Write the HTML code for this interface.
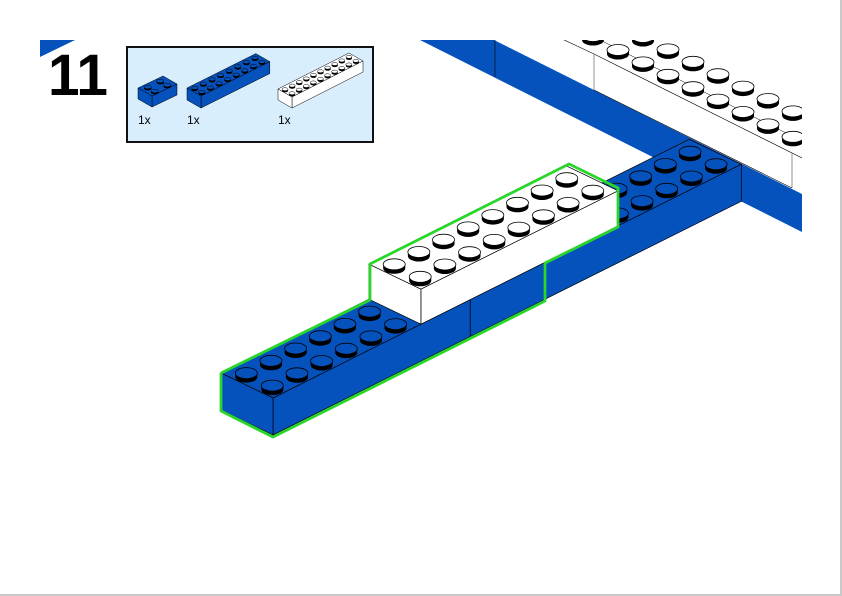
<!DOCTYPE html>
<html><head><meta charset="utf-8"><style>
html,body{margin:0;padding:0;background:#fff}
svg{display:block}
</style></head><body>
<svg id="s" width="842" height="596" viewBox="0 0 842 596" xmlns="http://www.w3.org/2000/svg">
<defs><clipPath id="c"><rect x="40" y="40" width="762" height="540"/></clipPath></defs>
<rect width="842" height="596" fill="#fff"/>
<line x1="841" y1="0" x2="841" y2="596" stroke="#c8c8c8" stroke-width="2"/>
<line x1="0" y1="595" x2="842" y2="595" stroke="#c8c8c8" stroke-width="2"/>
<polygon points="40,40 75,40 40,57" fill="#0552bd"/>
<text x="48" y="95" font-family="Liberation Sans, sans-serif" font-weight="bold" font-size="58" fill="#000" textLength="60" lengthAdjust="spacingAndGlyphs">11</text>
<rect x="127" y="47" width="246" height="95" fill="#d9eefc" stroke="#111" stroke-width="2"/>
<g font-family="Liberation Sans, sans-serif" font-size="12" fill="#000">
<text x="138" y="124">1x</text><text x="187" y="124">1x</text><text x="278" y="124">1x</text>
</g>
<g id="main" clip-path="url(#c)"></g>
<g id="parts"></g>
</svg>
<script>
var NS="http://www.w3.org/2000/svg";
function el(p,t,a){var e=document.createElementNS(NS,t);for(var k in a)e.setAttribute(k,a[k]);p.appendChild(e);return e;}
function pts(a){return a.map(function(p){return p[0].toFixed(1)+","+p[1].toFixed(1)}).join(" ");}
function add(p,q,k){return [p[0]+q[0]*k,p[1]+q[1]*k];}
function stud(g,cx,cy,rx,ry,h,col,sw){
  el(g,"ellipse",{cx:cx,cy:cy+h,rx:rx,ry:ry,fill:"#000"});
  el(g,"rect",{x:cx-rx,y:cy,width:2*rx,height:h,fill:"#000"});
  el(g,"ellipse",{cx:cx,cy:cy,rx:rx,ry:ry,fill:col,stroke:"#000","stroke-width":sw});
}
function brick(g,P,u,v,nL,nD,H,col,o){
  o=o||{};var sw=o.sw||0.7,ln=o.line||"#000";
  var A=P,B=add(P,u,nL),C=add(B,v,nD),D=add(P,v,nD);
  var dn=function(p){return [p[0],p[1]+H];};
  el(g,"polygon",{points:pts([A,B,C,D]),fill:col,stroke:ln,"stroke-width":sw});
  el(g,"polygon",{points:pts([A,B,dn(B),dn(A)]),fill:col,stroke:ln,"stroke-width":sw});
  el(g,"polygon",{points:pts([A,D,dn(D),dn(A)]),fill:col,stroke:ln,"stroke-width":sw});
  if(o.studs!==false){
    var rx=o.rx||11,ry=o.ry||5.5,h=o.sh||4;
    for(var j=nD-1;j>=0;j--)for(var i=0;i<nL;i++){
      var c=add(add(P,u,i+0.5),v,j+0.5);
      stud(g,c[0],c[1],rx,ry,h,col,o.ssw||0.8);
    }
  }
}
var BL="#0552bd",WH="#fff";
var g=document.getElementById("main");
// back band
el(g,"polygon",{points:"420,40 494,40 802,194 802,232",fill:BL});
el(g,"line",{x1:495,y1:40,x2:495,y2:77,stroke:"#000","stroke-width":0.6});
// upper white area
el(g,"polygon",{points:"565,40 802,40 802,194 792,188 594,90 594,55",fill:WH});
el(g,"polyline",{points:"560,38 594,54 802,158",fill:"none",stroke:"#000","stroke-width":0.6});
el(g,"line",{x1:594,y1:54,x2:594,y2:90,stroke:"#888","stroke-width":0.9});
el(g,"line",{x1:792,y1:153,x2:792,y2:188,stroke:"#888","stroke-width":0.9});
el(g,"line",{x1:594,y1:90,x2:792,y2:188,stroke:"#000","stroke-width":0.6});
el(g,"line",{x1:600,y1:40,x2:802,y2:141,stroke:"#000","stroke-width":0.5});
var su=[25,12.4];
stud(g,593,36,11,5.5,4,WH,0.8);
for(var i=0;i<7;i++){stud(g,643+su[0]*i,37+su[1]*i,11,5.5,4,WH,0.8);}
for(var i=0;i<8;i++){stud(g,618+su[0]*i,50+su[1]*i,11,5.5,4,WH,0.8);}
// main bricks
var F=[273,398],u=[24.65,-12.3],v=[-26,-12.5];
brick(g,add(F,u,11),u,v,8,2,37,BL);
brick(g,add(F,u,8),u,v,3,2,37,BL,{studs:false});
brick(g,F,u,v,8,2,37,BL);
var W=add(F,u,6);W=[W[0],W[1]-35];
brick(g,W,u,v,8,2,35,WH);
// green outline
el(g,"polyline",{points:"221,373 221,411 273,437 545,301 545,263 618,227 618,188 569,164 370,264 370,300 221,373",fill:"none",stroke:"#2bd62b","stroke-width":2.8,"stroke-linejoin":"round"});
// parts
var pg=document.getElementById("parts");
brick(pg,[152,96],[12.5,-6],[-7,-4],2,2,11,BL,{rx:3.6,ry:1.8,sh:1.6,sw:0.5,ssw:0.5});
brick(pg,[201,96],[8.6,-4.3],[-7,-4],8,2,12,BL,{rx:3.2,ry:1.6,sh:1.6,sw:0.5,ssw:0.5});
brick(pg,[292,97],[7.1,-3.6],[-7,-4],10,2,11,WH,{rx:3,ry:1.5,sh:1.6,sw:0.5,ssw:0.5});
</script>
</body></html>
